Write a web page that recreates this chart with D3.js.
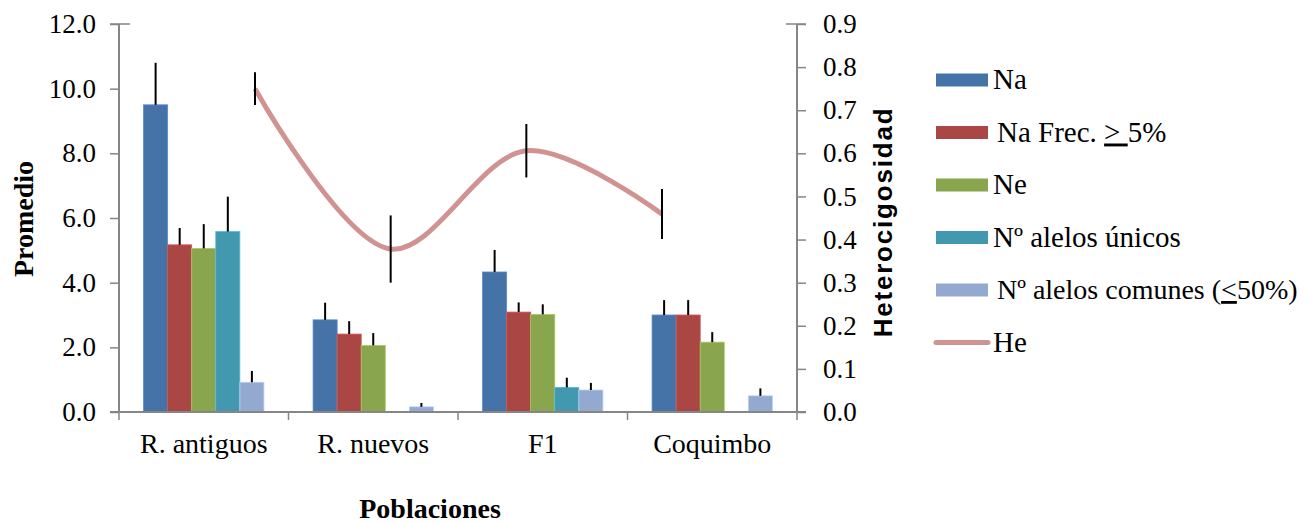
<!DOCTYPE html>
<html><head><meta charset="utf-8">
<script src="https://cdn.jsdelivr.net/npm/d3@7"></script>
<style>body{margin:0;background:#fff}svg{display:block}text{font-family:"Liberation Serif","Times New Roman",serif}</style>
</head><body>
<svg id="c" width="1314" height="525"></svg>
<script>
const categories = ["R. antiguos", "R. nuevos", "F1", "Coquimbo"];
const seriesNames = ["Na", "Na Frec. \u2265 5%", "Ne", "N\u00ba alelos \u00fanicos", "N\u00ba alelos comunes (\u226450%)"];
const naValues = [9.5, 2.85, 4.33, 3.0];
const naErr = [1.3, 0.53, 0.68, 0.46];
const naFrecValues = [5.17, 2.41, 3.09, 3.0];
const naFrecErr = [0.52, 0.4, 0.3, 0.46];
const neValues = [5.06, 2.06, 3.02, 2.16];
const neErr = [0.75, 0.38, 0.31, 0.31];
const unicosValues = [5.58, 0, 0.76, 0];
const unicosErr = [1.08, 0, 0.3, 0];
const comunesValues = [0.92, 0.16, 0.68, 0.5];
const comunesErr = [0.35, 0.12, 0.22, 0.23];
const heValues = [0.75, 0.378, 0.606, 0.459];
const heErr = [0.038, 0.078, 0.062, 0.058];
const leftTicks = [0, 2, 4, 6, 8, 10, 12];
const rightTicks = [0, 0.1, 0.2, 0.3, 0.4, 0.5, 0.6, 0.7, 0.8, 0.9];
const colors = ["#4572A7", "#AA4643", "#89A54E", "#4198AF", "#93A9CF"];
const heColor = "#D09392";

const seriesVals = [naValues, naFrecValues, neValues, unicosValues, comunesValues];
const seriesErrs = [naErr, naFrecErr, neErr, unicosErr, comunesErr];

const svg = d3.select("#c");
const m = {l:119, r:797, t:24, b:412};
const W = m.r - m.l, H = m.b - m.t;
const g = svg.append("g").attr("transform", `translate(${m.l},${m.t})`);
const axisColor = "#868686";

const x0 = d3.scaleBand().domain(categories).range([0, W]).paddingInner(0.29).paddingOuter(0.145);
const x1 = d3.scaleBand().domain(d3.range(seriesNames.length)).range([0, x0.bandwidth()]);
const yL = d3.scaleLinear().domain([0, 12]).range([H, 0]);
const yR = d3.scaleLinear().domain([0, 0.9]).range([H, 0]);
const xHe = d3.scalePoint().domain(categories).range([136, W - 135]);

// bars
seriesVals.forEach((vals, s) => {
  const gs = g.append("g");
  categories.forEach((c, i) => {
    const v = vals[i];
    if (v <= 0) return;
    gs.append("rect")
      .attr("x", x0(c) + x1(s)).attr("width", x1.bandwidth())
      .attr("y", yL(v)).attr("height", H - yL(v))
      .attr("fill", colors[s])
      .attr("stroke", d3.color(colors[s]).brighter(0.6)).attr("stroke-width", 0.8);
  });
});
// bar error bars
seriesVals.forEach((vals, s) => {
  categories.forEach((c, i) => {
    const v = vals[i], e = seriesErrs[s][i];
    if (v <= 0) return;
    const cx = x0(c) + x1(s) + x1.bandwidth()/2;
    g.append("line").attr("x1", cx).attr("x2", cx)
      .attr("y1", yL(v)).attr("y2", yL(v + e))
      .attr("stroke", "#000").attr("stroke-width", 2);
  });
});

// axes
const axL = d3.axisLeft(yL).tickValues(leftTicks).tickFormat(d3.format(".1f")).tickSize(9).tickPadding(14);
const gL = g.append("g").call(axL);
const axR = d3.axisRight(yR).tickValues(rightTicks).tickFormat(d3.format(".1f")).tickSize(9).tickPadding(17);
const gR = g.append("g").attr("transform", `translate(${W},0)`).call(axR);
[gL, gR].forEach(ax => {
  ax.attr("font-family", null).attr("font-size", null);
  ax.select(".domain").attr("stroke", axisColor).attr("stroke-width", 2).attr("d", `M0,0V${H}`);
  ax.selectAll(".tick line").attr("stroke", axisColor).attr("stroke-width", 1.5);
  ax.selectAll(".tick text").attr("fill", "#000").style("font-size", "27px");
});
// top cross ticks
g.append("line").attr("x1", -9).attr("x2", 11).attr("y1", 0).attr("y2", 0).attr("stroke", axisColor).attr("stroke-width", 1.5);
g.append("line").attr("x1", W - 11).attr("x2", W + 9).attr("y1", 0).attr("y2", 0).attr("stroke", axisColor).attr("stroke-width", 1.5);

// bottom axis
g.append("line").attr("x1", -9).attr("x2", W + 9).attr("y1", H).attr("y2", H).attr("stroke", axisColor).attr("stroke-width", 2);
const step = x0.step();
d3.range(categories.length + 1).forEach(i => {
  const xx = x0(categories[0]) - step * x0.paddingOuter() + i * step;
  g.append("line").attr("x1", xx).attr("x2", xx).attr("y1", H).attr("y2", H + 8).attr("stroke", axisColor).attr("stroke-width", 1.5);
});
categories.forEach(c => {
  g.append("text").attr("x", x0(c) + x0.bandwidth()/2).attr("y", H + 41)
    .attr("text-anchor", "middle").style("font-size", "28px").text(c);
});

// He line
const line = d3.line().x((d, i) => xHe(categories[i])).y(d => yR(d)).curve(d3.curveCatmullRom.alpha(0.5));
g.append("path").datum(heValues).attr("d", line).attr("fill", "none")
  .attr("stroke", heColor).attr("stroke-width", 5);
heValues.forEach((v, i) => {
  const cx = xHe(categories[i]);
  g.append("line").attr("x1", cx).attr("x2", cx)
    .attr("y1", yR(v - heErr[i])).attr("y2", yR(v + heErr[i]))
    .attr("stroke", "#000").attr("stroke-width", 2);
});

// axis titles
svg.append("text").attr("transform", "translate(33,219) rotate(-90)").attr("text-anchor", "middle")
  .style("font-size", "28px").style("font-weight", "bold").text("Promedio");
svg.append("text").attr("transform", "translate(892,222) rotate(-90)").attr("text-anchor", "middle")
  .style("font-family", "'Liberation Sans', Arial, sans-serif").style("font-size", "26px")
  .style("letter-spacing", "1.8px").style("font-weight", "bold").text("Heterocigosidad");
svg.append("text").attr("x", 430).attr("y", 518).attr("text-anchor", "middle")
  .style("font-size", "28px").style("font-weight", "bold").text("Poblaciones");

// legend
const leg = svg.append("g").attr("transform", "translate(936,0)");
const rowY = [80, 132.5, 185, 237.5, 290, 342.5];
seriesNames.forEach((n, s) => {
  leg.append("rect").attr("x", 0).attr("y", rowY[s] - 6.5).attr("width", 52).attr("height", 13).attr("fill", colors[s]);
});
leg.append("line").attr("x1", 0).attr("x2", 52).attr("y1", rowY[5]).attr("y2", rowY[5])
  .attr("stroke", heColor).attr("stroke-width", 5).attr("stroke-linecap", "round");
function legText(i, x, fs) {
  return leg.append("text").attr("x", x).attr("y", rowY[i] + 9).style("font-size", (fs || 29) + "px");
}
legText(0, 57).text("Na");
{ const t = legText(1, 61); t.append("tspan").text("Na Frec. ");
  t.append("tspan").style("text-decoration", "underline").text("> ");
  t.append("tspan").text("5%"); }
legText(2, 57).text("Ne");
legText(3, 57).text("N\u00ba alelos \u00fanicos");
{ const t = legText(4, 61, 28); t.append("tspan").text("N\u00ba alelos comunes (");
  t.append("tspan").style("text-decoration", "underline").text("<");
  t.append("tspan").text("50%)"); }
legText(5, 57).text("He");
</script>
</body></html>
